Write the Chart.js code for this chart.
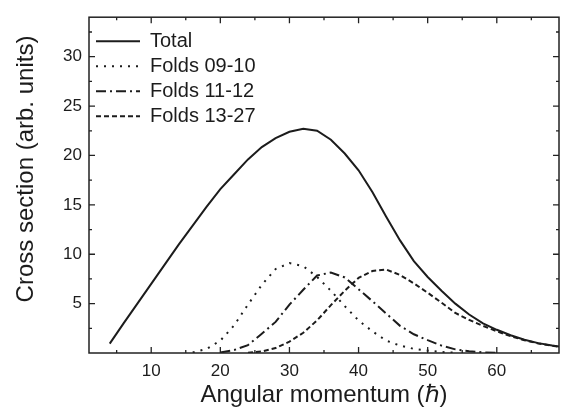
<!DOCTYPE html>
<html>
<head>
<meta charset="utf-8">
<script src="https://cdn.jsdelivr.net/npm/chart.js@4.4.1/dist/chart.umd.min.js"></script>
<style>
  html, body { margin: 0; padding: 0; background: #fff; }
</style>
</head>
<body>
<canvas id="crossChart" width="567" height="408"></canvas>
<script>
// angular momentum (hbar) and cross sections
const jTotal = [4, 6, 8, 10, 12, 14, 16, 18, 20, 22, 24, 26, 28, 30, 32, 34, 36, 38, 40, 42, 44, 46, 48, 50, 52, 54, 56, 58, 60, 62, 64, 66, 68, 69];
const total = [0.95, 3.0, 5.0, 7.0, 9.0, 11.0, 12.9, 14.8, 16.6, 18.1, 19.6, 20.85, 21.75, 22.4, 22.7, 22.5, 21.6, 20.2, 18.5, 16.3, 13.8, 11.4, 9.3, 7.7, 6.3, 5.0, 3.9, 3.0, 2.35, 1.8, 1.35, 1.0, 0.75, 0.65];

const jF0910 = [16, 18, 20, 22, 24, 26, 28, 30, 32, 34, 36, 38, 40, 42, 44, 46, 48, 50, 52, 54];
const f0910 = [0.05, 0.4, 1.25, 2.8, 4.9, 6.9, 8.5, 9.1, 8.8, 7.7, 6.3, 4.75, 3.3, 2.2, 1.25, 0.75, 0.42, 0.25, 0.1, 0.04];

const jF1112 = [20, 22, 24, 26, 28, 30, 32, 34, 36, 38, 40, 42, 44, 46, 48, 50, 52, 54, 56, 58, 60];
const f1112 = [0.05, 0.3, 0.8, 1.95, 3.15, 4.9, 6.4, 7.85, 8.15, 7.65, 6.45, 5.25, 4.0, 2.75, 1.9, 1.3, 0.75, 0.37, 0.18, 0.07, 0.02];

const jF1327 = [24, 26, 28, 30, 32, 34, 36, 38, 40, 42, 44, 46, 48, 50, 52, 54, 56, 58, 60, 62, 64, 66, 68, 69];
const f1327 = [0.03, 0.15, 0.5, 1.15, 2.05, 3.3, 4.85, 6.3, 7.6, 8.3, 8.45, 7.9, 7.05, 6.1, 5.1, 4.05, 3.35, 2.75, 2.2, 1.7, 1.3, 0.97, 0.73, 0.63];

const seriesLabels = ['Total', 'Folds 09-10', 'Folds 11-12', 'Folds 13-27'];

const xTicks = [10, 20, 30, 40, 50, 60];
const xMinorTicks = [5, 15, 25, 35, 45, 55, 65];
const yTicks = [5, 10, 15, 20, 25, 30];
const yMinorTicks = [2.5, 7.5, 12.5, 17.5, 22.5, 27.5, 32.5];

const ink = '#1c1c1c';
const fontFamily = '"Liberation Sans", Arial, Helvetica, sans-serif';

Chart.defaults.font.family = fontFamily;
Chart.defaults.color = ink;

function toPoints(xs, ys) {
    return xs.map((x, i) => ({ x: x, y: ys[i] }));
}

function lineSet(label, xs, ys, dash) {
    return {
        label: label,
        data: toPoints(xs, ys),
        borderColor: ink,
        backgroundColor: ink,
        borderWidth: 2,
        borderDash: dash,
        pointRadius: 0,
        tension: 0,
        fill: false
    };
}

// box round the plot with inward ticks, plus the y title
const framePlugin = {
    id: 'frame',
    afterLayout(chart) {
        const lg = chart.legend;
        const a = chart.chartArea;
        const w = lg.width, h = lg.height;
        lg.left = a.left + 2;
        lg.top = a.top + 9;
        lg.right = lg.left + w;
        lg.bottom = lg.top + h;
    },
    afterDraw(chart) {
        const { ctx, chartArea: a, scales: { x, y } } = chart;
        ctx.save();
        ctx.strokeStyle = '#222';
        ctx.lineWidth = 1.5;
        ctx.strokeRect(a.left, a.top, a.right - a.left, a.bottom - a.top);

        ctx.lineWidth = 1.3;
        ctx.beginPath();
        const xt = (v, len) => {
            const p = x.getPixelForValue(v);
            ctx.moveTo(p, a.bottom); ctx.lineTo(p, a.bottom - len);
            ctx.moveTo(p, a.top); ctx.lineTo(p, a.top + len);
        };
        const yt = (v, len) => {
            const p = y.getPixelForValue(v);
            ctx.moveTo(a.left, p); ctx.lineTo(a.left + len, p);
            ctx.moveTo(a.right, p); ctx.lineTo(a.right - len, p);
        };
        xTicks.forEach(v => xt(v, 6));
        xMinorTicks.forEach(v => xt(v, 3));
        yTicks.forEach(v => yt(v, 6));
        yMinorTicks.forEach(v => yt(v, 3));
        ctx.stroke();

        ctx.translate(26, 169);
        ctx.rotate(-Math.PI / 2);
        ctx.fillStyle = ink;
        ctx.font = '24px ' + fontFamily;
        ctx.textAlign = 'center';
        ctx.textBaseline = 'middle';
        ctx.fillText('Cross section (arb. units)', 0, 0);
        ctx.restore();
    }
};

const ctxCross = document.getElementById('crossChart').getContext('2d');
const crossChart = new Chart(ctxCross, {
    type: 'line',
    data: {
        datasets: [
            lineSet(seriesLabels[0], jTotal, total, []),
            lineSet(seriesLabels[1], jF0910, f0910, [2, 6]),
            lineSet(seriesLabels[2], jF1112, f1112, [10, 4, 2, 4]),
            lineSet(seriesLabels[3], jF1327, f1327, [5, 3])
        ]
    },
    options: {
        responsive: false,
        animation: false,
        layout: {
            padding: { left: 0, right: 8, top: 12, bottom: 0 }
        },
        scales: {
            x: {
                type: 'linear',
                min: 1,
                max: 69,
                afterBuildTicks: scale => { scale.ticks = xTicks.map(v => ({ value: v })); },
                afterFit: scale => { scale.height = 55; },
                grid: { display: false, drawTicks: false },
                border: { display: false },
                ticks: {
                    padding: 8,
                    color: ink,
                    font: { size: 17 }
                },
                title: {
                    display: true,
                    text: 'Angular momentum (\u210F)',
                    color: ink,
                    font: { size: 24, lineHeight: 1 },
                    padding: { top: 0, bottom: 1 }
                }
            },
            y: {
                min: 0,
                max: 34,
                afterBuildTicks: scale => { scale.ticks = yTicks.map(v => ({ value: v })); },
                afterFit: scale => { scale.width = 89; },
                grid: { display: false, drawTicks: false },
                border: { display: false },
                ticks: {
                    padding: 7,
                    color: ink,
                    font: { size: 17 }
                }
            }
        },
        plugins: {
            legend: {
                position: 'chartArea',
                align: 'start',
                labels: {
                    usePointStyle: true,
                    pointStyle: 'line',
                    pointStyleWidth: 44,
                    boxHeight: 20,
                    padding: 5,
                    color: ink,
                    font: { size: 20 },
                    generateLabels: chart => chart.data.datasets.map((ds, i) => ({
                        text: ds.label,
                        datasetIndex: i,
                        fillStyle: ds.backgroundColor,
                        strokeStyle: ds.borderColor,
                        lineWidth: ds.borderWidth,
                        lineDash: ds.borderDash,
                        lineCap: 'butt',
                        pointStyle: 'line',
                        fontColor: ink,
                        hidden: false
                    }))
                }
            },
            tooltip: { enabled: false }
        }
    },
    plugins: [framePlugin]
});
</script>
</body>
</html>
